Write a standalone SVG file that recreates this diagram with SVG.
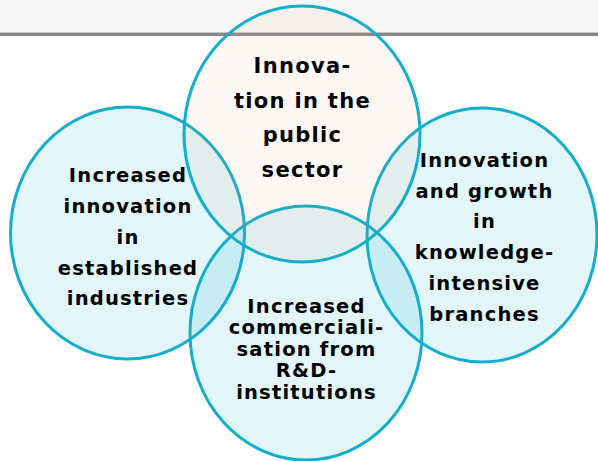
<svg xmlns="http://www.w3.org/2000/svg" width="598" height="461" viewBox="0 0 598 461">
<style>
.c{stroke:#14aecb;stroke-width:3}
.cy{fill:#1ab0cc;fill-opacity:0.125}
.pe{fill:#e29b62;fill-opacity:0.07}
text{font-family:"DejaVu Sans",Verdana,sans-serif;font-weight:bold;fill:#000;text-anchor:middle}
.t1{font-size:21px;letter-spacing:1.3px}
.t2{font-size:19.5px;letter-spacing:1.2px}
</style>
<rect x="0" y="0" width="598" height="461" fill="#ffffff"/>
<rect x="0" y="0" width="598" height="32" fill="#f7f7f7"/>
<rect x="0" y="32" width="598" height="1" fill="#c4c4c4"/>
<rect x="0" y="33" width="598" height="3" fill="#888888"/>
<g id="connectors"></g>
<g id="node-left">
<ellipse class="c cy" cx="127.5" cy="233" rx="117" ry="126"/>
<text class="t2" x="128" y="182">Increased</text>
<text class="t2" x="128" y="213">innovation</text>
<text class="t2" x="128" y="244">in</text>
<text class="t2" x="128" y="275">established</text>
<text class="t2" x="128" y="305">industries</text>
</g>
<g id="node-right">
<ellipse class="c cy" cx="482" cy="235" rx="115" ry="127"/>
<text class="t2" x="484.5" y="167">Innovation</text>
<text class="t2" x="484.5" y="198">and growth</text>
<text class="t2" x="484.5" y="228">in</text>
<text class="t2" x="484.5" y="259">knowledge-</text>
<text class="t2" x="484.5" y="290">intensive</text>
<text class="t2" x="484.5" y="321">branches</text>
</g>
<g id="node-bottom">
<ellipse class="c cy" cx="306" cy="333" rx="116" ry="127"/>
<text class="t2" x="306.5" y="313">Increased</text>
<text class="t2" x="306.5" y="334">commerciali-</text>
<text class="t2" x="306.5" y="356">sation from</text>
<text class="t2" x="306.5" y="377">R&amp;D-</text>
<text class="t2" x="306.5" y="399">institutions</text>
</g>
<g id="node-top">
<ellipse class="c pe" cx="302" cy="134" rx="118" ry="128"/>
<text class="t1" x="302.5" y="73">Innova-</text>
<text class="t1" x="302.5" y="108">tion in the</text>
<text class="t1" x="302.5" y="142">public</text>
<text class="t1" x="302.5" y="177">sector</text>
</g>
</svg>
